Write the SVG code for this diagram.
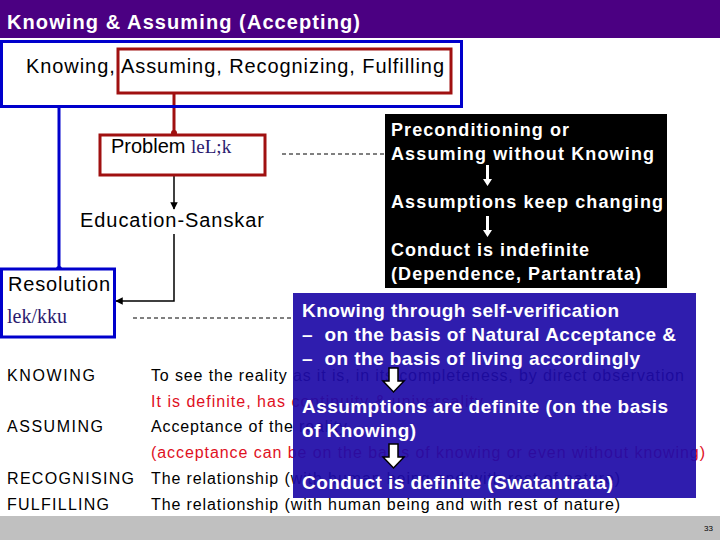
<svg xmlns="http://www.w3.org/2000/svg" width="720" height="540" viewBox="0 0 720 540">
<style>
text{font-family:"Liberation Sans",Arial,sans-serif}
.b{font-weight:bold;fill:#fff;font-size:18px}
.w{font-weight:bold;fill:#fff;font-size:19px}
.t{font-size:16px;fill:#000}
.r{font-size:16px;fill:#e0101e}
.d{font-family:"Liberation Serif",serif;fill:#2a1a6e}
</style>
<defs>
<marker id="ah" viewBox="0 0 10 10" refX="9" refY="5" markerWidth="5" markerHeight="5" orient="auto"><path d="M0,0L10,5L0,10z" fill="#000"/></marker>
</defs>
<rect width="720" height="540" fill="#fff"/>
<rect x="0" y="0" width="720" height="38" fill="#4b0082"/>
<text x="7" y="29" font-size="20" font-weight="bold" fill="#fff" textLength="353">Knowing &amp; Assuming (Accepting)</text>
<rect x="0" y="516" width="720" height="24" fill="#c0c0c0"/>
<text x="704" y="531" font-size="8" fill="#000">33</text>

<g id="table">
<text class="t" x="7" y="381" textLength="88">KNOWING</text>
<text class="t" x="7" y="432" textLength="96">ASSUMING</text>
<text class="t" x="7" y="484" textLength="127">RECOGNISING</text>
<text class="t" x="7" y="510" textLength="102">FULFILLING</text>
<text class="t" x="151" y="381" textLength="533">To see the reality as it is, in its completeness, by direct observation</text>
<text class="r" x="151" y="407" textLength="332">It is definite, has continuity &amp; universality</text>
<text class="t" x="151" y="432" textLength="196">Acceptance of the reality</text>
<text class="r" x="151" y="458" textLength="554">(acceptance can be on the basis of knowing or even without knowing)</text>
<text class="t" x="151" y="484" textLength="469">The relationship (with human being and with rest of nature)</text>
<text class="t" x="151" y="510" textLength="469">The relationship (with human being and with rest of nature)</text>
</g>

<g id="connectors">
<line x1="59" y1="108" x2="59" y2="269" stroke="#0000cc" stroke-width="3"/>
<circle cx="59" cy="269" r="3" fill="#0000cc"/>
<line x1="174" y1="93" x2="174" y2="135" stroke="#a01010" stroke-width="3"/>
<circle cx="174" cy="133" r="3" fill="#a01010"/>
<line x1="174" y1="175" x2="174" y2="209" stroke="#000" stroke-width="1.5" marker-end="url(#ah)"/>
<polyline points="174,234 174,301 116,301" fill="none" stroke="#000" stroke-width="1.5" marker-end="url(#ah)"/>
<line x1="282" y1="154" x2="385" y2="154" stroke="#000" stroke-dasharray="4,3"/>
<line x1="133" y1="318" x2="293" y2="318" stroke="#000" stroke-dasharray="4,3"/>
</g>

<g id="top">
<rect x="1.5" y="41.5" width="460" height="65" fill="none" stroke="#0000cc" stroke-width="3"/>
<rect x="118" y="49" width="333" height="44" fill="none" stroke="#a01010" stroke-width="3"/>
<text x="26" y="73" font-size="20" textLength="418">Knowing, Assuming, Recognizing, Fulfilling</text>
</g>
<g id="problem">
<rect x="100" y="135" width="165" height="40" fill="none" stroke="#a01010" stroke-width="3"/>
<text x="111" y="153" font-size="20">Problem <tspan class="d" font-size="19">leL;k</tspan></text>
</g>
<g id="education"><text x="80" y="227" font-size="20" textLength="184">Education-Sanskar</text></g>
<g id="resolution">
<rect x="1.5" y="269" width="113" height="68" fill="#fff" stroke="#0000cc" stroke-width="3"/>
<text x="8" y="291" font-size="20" textLength="102">Resolution</text>
<text class="d" x="7" y="323" font-size="20">lek/kku</text>
</g>

<g id="blackbox">
<rect x="385" y="114" width="282" height="174" fill="#000"/>
<text class="b" x="391" y="136" textLength="178">Preconditioning or</text>
<text class="b" x="391" y="160" textLength="263">Assuming without Knowing</text>
<text class="b" x="391" y="208" textLength="272">Assumptions keep changing</text>
<text class="b" x="391" y="256" textLength="198">Conduct is indefinite</text>
<text class="b" x="391" y="280" textLength="250">(Dependence, Partantrata)</text>
<path d="M486,165h3v14h3l-4.5,7l-4.5,-7h3z" fill="#fff"/>
<path d="M486,216h3v14h3l-4.5,7l-4.5,-7h3z" fill="#fff"/>
</g>

<g id="bluebox">
<rect x="293" y="293" width="403" height="205" fill="#1f0ca8" opacity="0.93"/>
<text class="w" x="302" y="317" textLength="317">Knowing through self-verification</text>
<text class="w" x="302" y="341" textLength="374" xml:space="preserve">–  on the basis of Natural Acceptance &amp;</text>
<text class="w" x="302" y="365" textLength="338" xml:space="preserve">–  on the basis of living accordingly</text>
<text class="w" x="302" y="413" textLength="366">Assumptions are definite (on the basis</text>
<text class="w" x="302" y="437" textLength="114">of Knowing)</text>
<text class="w" x="302" y="489" textLength="311">Conduct is definite (Swatantrata)</text>
<path d="M389,368h9v13h6l-10.5,11l-10.5,-11h6z" fill="#fff" stroke="#000" stroke-width="1.5"/>
<path d="M389,444h9v13h6l-10.5,11l-10.5,-11h6z" fill="#fff" stroke="#000" stroke-width="1.5"/>
</g>
</svg>
